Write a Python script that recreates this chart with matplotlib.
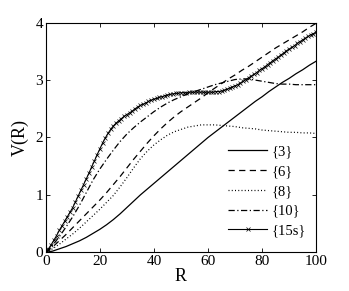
import matplotlib
matplotlib.use('Agg')
import matplotlib.pyplot as plt
import numpy as np

plt.rcParams['font.family'] = ['Liberation Serif', 'DejaVu Serif']

# R grid for the smooth curves (step 2.5) and the marked curve (step 1)
r_coarse = np.arange(0, 100.1, 2.5)
r_fine = np.arange(0, 101, 1)

v3 = [0.00, 0.02, 0.06, 0.10, 0.15, 0.20, 0.26, 0.33, 0.40, 0.48, 0.57,
      0.67, 0.78, 0.89, 1.00, 1.10, 1.20, 1.30, 1.40, 1.50, 1.60, 1.70,
      1.80, 1.90, 2.00, 2.09, 2.18, 2.27, 2.36, 2.45, 2.54, 2.63, 2.71,
      2.80, 2.88, 2.96, 3.03, 3.11, 3.18, 3.26, 3.33]
v6 = [0.00, 0.09, 0.20, 0.31, 0.43, 0.55, 0.67, 0.79, 0.91, 1.04, 1.18,
      1.32, 1.47, 1.62, 1.76, 1.90, 2.03, 2.15, 2.26, 2.36, 2.45, 2.53,
      2.61, 2.69, 2.78, 2.86, 2.94, 3.02, 3.09, 3.17, 3.24, 3.32, 3.40,
      3.48, 3.56, 3.63, 3.70, 3.77, 3.84, 3.92, 3.99]
v8 = [0.00, 0.06, 0.14, 0.23, 0.32, 0.42, 0.53, 0.64, 0.75, 0.87, 0.99,
      1.14, 1.30, 1.47, 1.63, 1.76, 1.87, 1.96, 2.04, 2.10, 2.14, 2.18,
      2.20, 2.22, 2.22, 2.22, 2.21, 2.20, 2.19, 2.17, 2.16, 2.15, 2.13,
      2.12, 2.11, 2.10, 2.09, 2.09, 2.08, 2.08, 2.07]
v10 = [0.00, 0.12, 0.27, 0.44, 0.62, 0.82, 1.04, 1.26, 1.45, 1.62, 1.78,
       1.93, 2.06, 2.17, 2.27, 2.36, 2.45, 2.53, 2.60, 2.66, 2.71, 2.76,
       2.80, 2.84, 2.88, 2.92, 2.95, 2.98, 3.01, 3.02, 3.02, 3.00, 2.98,
       2.96, 2.94, 2.93, 2.93, 2.92, 2.92, 2.92, 2.92]
v15s = [0.00, 0.06, 0.13, 0.21, 0.29, 0.38, 0.46, 0.54, 0.62, 0.70,
        0.78, 0.88, 0.98, 1.08, 1.18, 1.28, 1.38, 1.49, 1.59, 1.70,
        1.80, 1.90, 1.99, 2.07, 2.14, 2.20, 2.25, 2.29, 2.33, 2.37,
        2.40, 2.43, 2.46, 2.50, 2.53, 2.56, 2.58, 2.60, 2.63, 2.65,
        2.67, 2.68, 2.70, 2.71, 2.73, 2.74, 2.75, 2.76, 2.77, 2.77,
        2.78, 2.78, 2.78, 2.79, 2.79, 2.79, 2.79, 2.79, 2.79, 2.79,
        2.79, 2.79, 2.79, 2.80, 2.80, 2.81, 2.82, 2.84, 2.86, 2.88,
        2.90, 2.92, 2.95, 2.98, 3.01, 3.04, 3.07, 3.10, 3.13, 3.17,
        3.20, 3.23, 3.27, 3.30, 3.34, 3.37, 3.40, 3.44, 3.47, 3.51,
        3.54, 3.57, 3.60, 3.64, 3.67, 3.70, 3.73, 3.76, 3.79, 3.81,
        3.84]

labels = ['{3}', '{6}', '{8}', '{10}', '{15s}']
x_ticks = [0, 20, 40, 60, 80, 100]
y_ticks = [0, 1, 2, 3, 4]

fig = plt.figure(figsize=(3.49, 2.91), dpi=100)
ax = fig.add_axes([0.131, 0.133, 0.775, 0.789])

lw = 0.9
ax.plot(r_coarse, v3, color='black', lw=lw, label=labels[0])
ax.plot(r_coarse, v6, color='black', lw=lw, dashes=(5, 3.5), label=labels[1])
ax.plot(r_coarse, v8, color='black', lw=lw, dashes=(0.8, 1.8), label=labels[2])
ax.plot(r_coarse, v10, color='black', lw=lw, dashes=(5, 2, 1, 2), label=labels[3])
ax.plot(r_fine, v15s, color='black', lw=0.8, marker='x', markersize=3.5,
        markeredgewidth=0.5, label=labels[4])

ax.set_xlim(0, 100)
ax.set_ylim(0, 4)
ax.set_xticks(x_ticks)
ax.set_yticks(y_ticks)
ax.tick_params(direction='in', top=True, right=True, length=3, width=0.6,
               labelsize=11, pad=2)
for s in ax.spines.values():
    s.set_linewidth(0.8)

ax.set_xlabel('R', fontsize=13, labelpad=0)
ax.set_ylabel('V(R)', fontsize=13, labelpad=5)

leg = ax.legend(loc='lower right', frameon=False, fontsize=10.5,
                handlelength=2.7, handletextpad=0.3, labelspacing=0.45,
                borderaxespad=0.3, bbox_to_anchor=(1.0, 0.02))
for h in leg.legend_handles:
    if h.get_marker() == 'x':
        h.set_markevery([1])

fig.savefig('out.png', dpi=100)
